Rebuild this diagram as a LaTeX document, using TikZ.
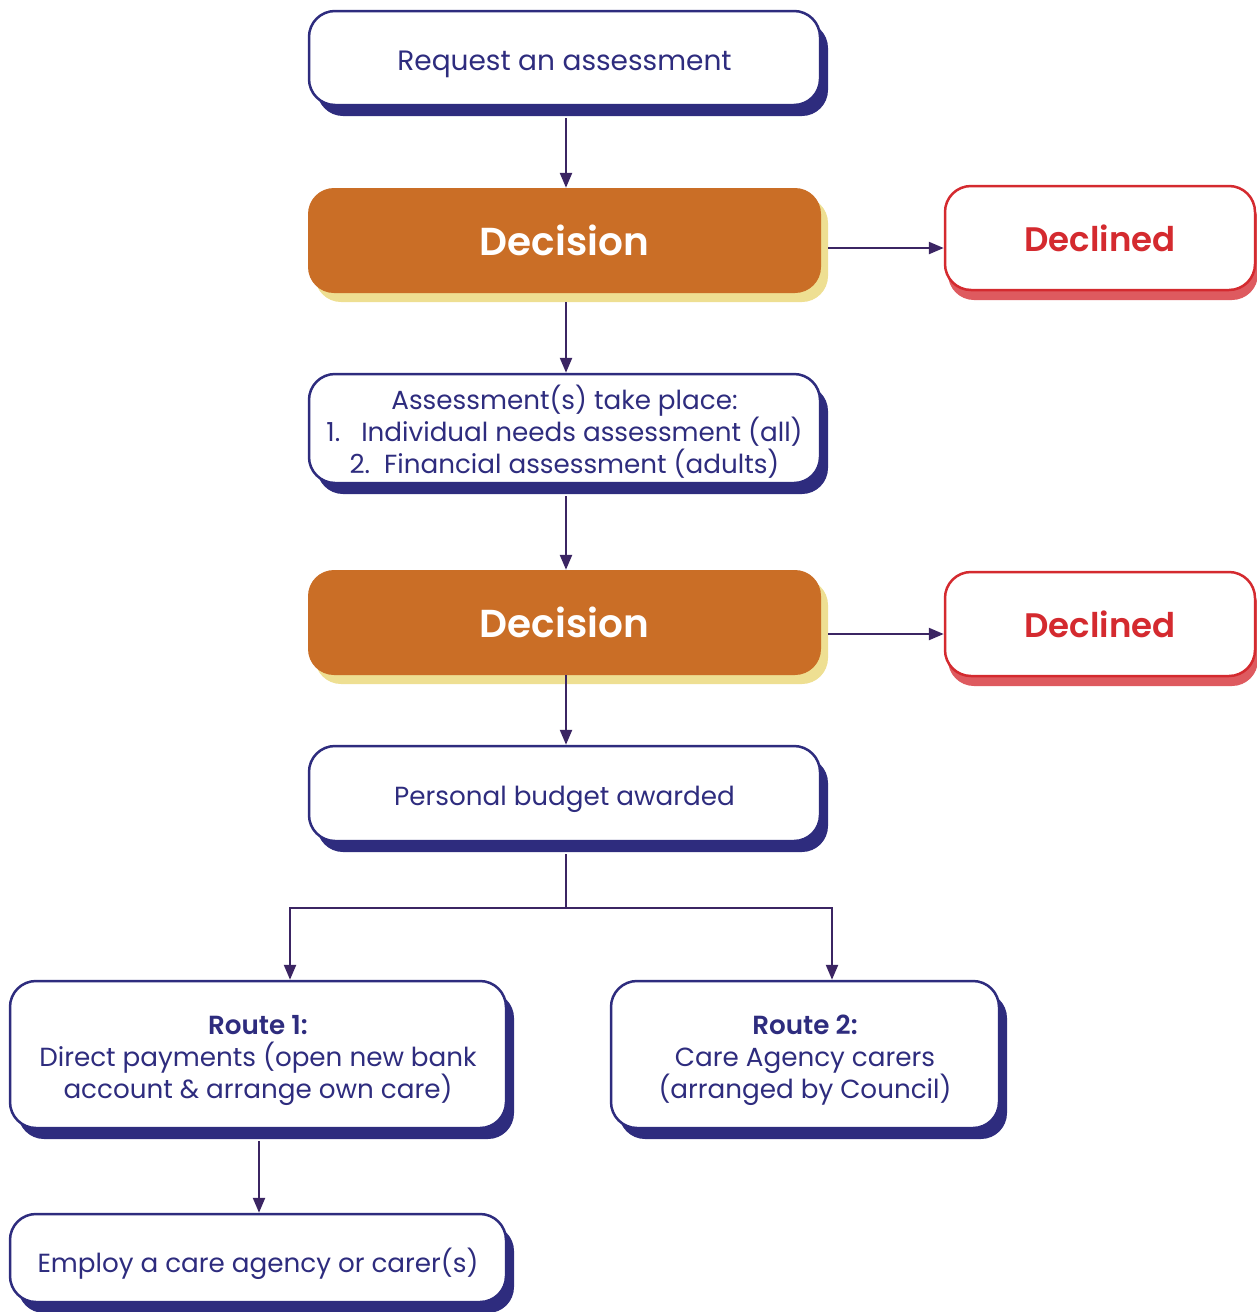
\documentclass[tikz,border=0pt]{standalone}
\usepackage{fontspec}
\setmainfont{Poppins}
\IfFontExistsTF{Poppins SemiBold}{\newfontfamily\semib{Poppins SemiBold}}{\newfontfamily\semib{Poppins}[FakeBold=1.2]}
\usetikzlibrary{arrows.meta,calc,shadows}
\definecolor{navy}{HTML}{2E2C7E}
\definecolor{arrowc}{HTML}{3B2563}
\definecolor{orangec}{HTML}{CA6E26}
\definecolor{yellowc}{HTML}{EEDF92}
\definecolor{redc}{HTML}{D42A2F}
\definecolor{redsh}{HTML}{DE5A5F}
\tikzset{
  base/.style={rounded corners=26pt, inner sep=0pt},
  whitebox/.style={base, draw=navy, line width=2.5pt, fill=white,
    drop shadow={shadow xshift=8pt, shadow yshift=-11pt, fill=navy, opacity=1}},
  decbox/.style={base, fill=orangec, text=white, font=\fontsize{39}{40}\selectfont\semib,
    drop shadow={shadow xshift=7pt, shadow yshift=-9pt, fill=yellowc, opacity=1}},
  declbox/.style={base, draw=redc, line width=2.5pt, fill=white, text=redc, font=\fontsize{34}{40}\selectfont\semib,
    drop shadow={shadow xshift=3pt, shadow yshift=-10pt, fill=redsh, opacity=1}},
  txt/.style={text=navy, align=center, inner sep=0pt, yshift=-6pt, font=\fontsize{26.2}{32}\selectfont},
  ln/.style={draw=arrowc, line width=2.4pt},
  arr/.style={ln, -{Triangle[length=15pt,width=12pt]}}
}
\begin{document}
\begin{tikzpicture}[x=1pt,y=-1pt]
\useasboundingbox (0,0) rectangle (1257,1312);
\node[whitebox, minimum width=511pt, minimum height=94pt,
  label={[txt, font=\fontsize{28}{32}\selectfont]center:Request an assessment}] (req) at (564.5,58) {};
\node[decbox, minimum width=513pt, minimum height=105pt] (dec1) at (564.5,240.5) {Decision};
\node[declbox, minimum width=310pt, minimum height=104pt] (decl1) at (1100,238) {Declined};
\node[whitebox, minimum width=511pt, minimum height=109pt,
  label={[txt, yshift=3pt]center:{Assessment(s) take place:\\1.\ \ \ Individual needs assessment (all)\\2.\ \ Financial assessment (adults)}}] (ass) at (564.5,428.5) {};
\node[decbox, minimum width=513pt, minimum height=105pt] (dec2) at (564.5,622.5) {Decision};
\node[declbox, minimum width=310pt, minimum height=104pt] (decl2) at (1100,624) {Declined};
\node[whitebox, minimum width=511pt, minimum height=95pt,
  label={[txt]center:Personal budget awarded}] (pb) at (564.5,793.5) {};
\node[whitebox, minimum width=496pt, minimum height=147pt,
  label={[txt]center:{{\semib Route 1:}\\Direct payments (open new bank\\account \& arrange own care)}}] (r1) at (258,1054.5) {};
\node[whitebox, minimum width=388pt, minimum height=147pt,
  label={[txt]center:{{\semib Route 2:}\\Care Agency carers\\(arranged by Council)}}] (r2) at (805,1054.5) {};
\node[whitebox, minimum width=496pt, minimum height=88pt,
  label={[txt]center:Employ a care agency or carer(s)}] (emp) at (258,1258) {};

\draw[arr] ($(req.south)+(1.5,12)$) -- ($(dec1.north)+(1.5,0)$);
\draw[arr] ($(dec1.east)+(7,7.5)$) -- ($(decl1.west)+(0,10)$);
\draw[arr] ($(dec1.south)+(1.5,9)$) -- ($(ass.north)+(1.5,0)$);
\draw[arr] ($(ass.south)+(1.5,12)$) -- ($(dec2.north)+(1.5,0)$);
\draw[arr] ($(dec2.east)+(7,11.5)$) -- ($(decl2.west)+(0,10)$);
\draw[arr] ($(dec2.south)+(1.5,0)$) -- ($(pb.north)+(1.5,0)$);
\draw[ln] ($(pb.south)+(1.5,12)$) -- ++(0,54) coordinate (split);
\draw[arr] (split) -| ($(r1.north)+(32,0)$);
\draw[arr] (split) -| ($(r2.north)+(27,0)$);
\draw[arr] ($(r1.south)+(1,12)$) -- ($(emp.north)+(1,0)$);
\end{tikzpicture}
\end{document}
